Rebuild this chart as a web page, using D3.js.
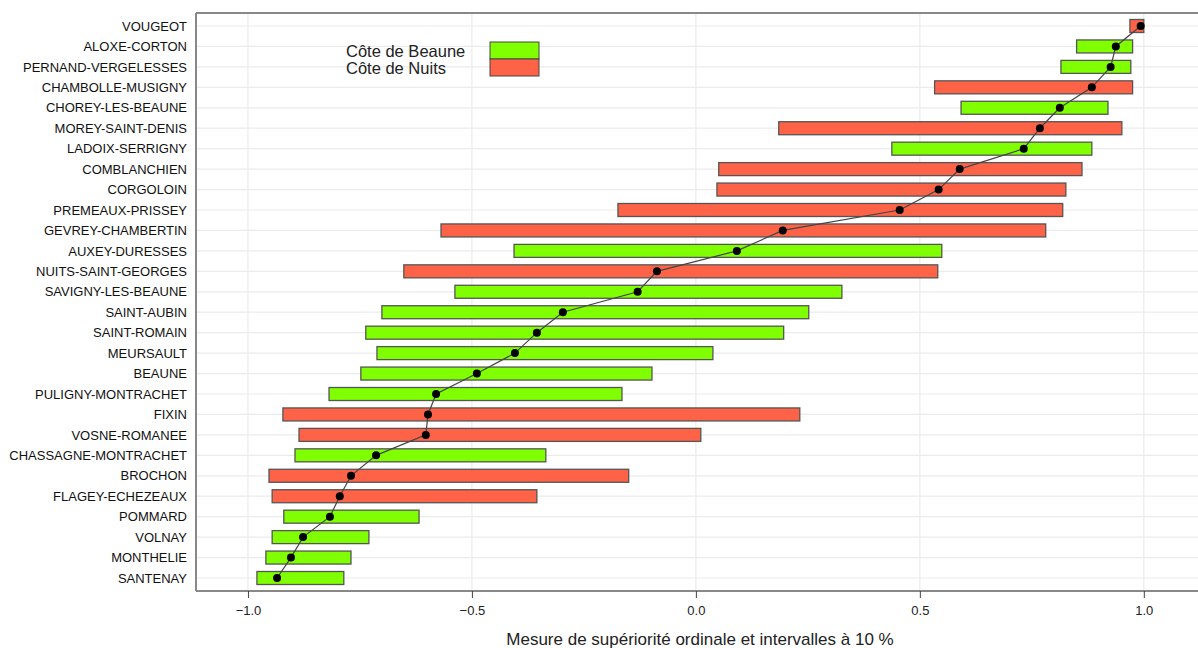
<!DOCTYPE html>
<html>
<head>
<meta charset="utf-8">
<script src="https://cdn.jsdelivr.net/npm/d3@7"></script>
<style>
  body { margin: 0; background: #fff; }
  text { font-family: "Liberation Sans", Arial, sans-serif; }
</style>
</head>
<body>
<div id="chart"></div>
<script>
// communes, top to bottom
const communes = ["VOUGEOT", "ALOXE-CORTON", "PERNAND-VERGELESSES", "CHAMBOLLE-MUSIGNY",
    "CHOREY-LES-BEAUNE", "MOREY-SAINT-DENIS", "LADOIX-SERRIGNY", "COMBLANCHIEN", "CORGOLOIN",
    "PREMEAUX-PRISSEY", "GEVREY-CHAMBERTIN", "AUXEY-DURESSES", "NUITS-SAINT-GEORGES",
    "SAVIGNY-LES-BEAUNE", "SAINT-AUBIN", "SAINT-ROMAIN", "MEURSAULT", "BEAUNE",
    "PULIGNY-MONTRACHET", "FIXIN", "VOSNE-ROMANEE", "CHASSAGNE-MONTRACHET", "BROCHON",
    "FLAGEY-ECHEZEAUX", "POMMARD", "VOLNAY", "MONTHELIE", "SANTENAY"];

// B = Côte de Beaune, N = Côte de Nuits
const cote = ["N", "B", "B", "N", "B", "N", "B", "N", "N", "N", "N", "B", "N", "B",
    "B", "B", "B", "B", "B", "N", "N", "B", "N", "N", "B", "B", "B", "B"];

const estimate = [0.993, 0.9375, 0.926, 0.884, 0.8125, 0.768, 0.732, 0.589, 0.542,
    0.455, 0.194, 0.0915, -0.087, -0.130, -0.297, -0.355, -0.404, -0.489,
    -0.580, -0.598, -0.603, -0.714, -0.770, -0.795, -0.817, -0.877, -0.904, -0.935];

const lower = [0.969, 0.850, 0.815, 0.533, 0.592, 0.185, 0.4375, 0.051, 0.047,
    -0.174, -0.569, -0.406, -0.652, -0.538, -0.701, -0.737, -0.712, -0.748,
    -0.819, -0.922, -0.886, -0.895, -0.953, -0.946, -0.920, -0.946, -0.960, -0.980];

const upper = [1.0, 0.975, 0.971, 0.975, 0.920, 0.951, 0.884, 0.862, 0.826,
    0.819, 0.781, 0.549, 0.540, 0.326, 0.252, 0.196, 0.038, -0.098,
    -0.165, 0.232, 0.011, -0.335, -0.150, -0.355, -0.618, -0.730, -0.770, -0.786];

const xTicks = [-1.0, -0.5, 0.0, 0.5, 1.0];
const legendLabels = ["Côte de Beaune", "Côte de Nuits"];
const legendKeys = ["B", "N"];

const data = communes.map((c, i) => ({
    name: c, cote: cote[i], est: estimate[i], lo: lower[i], hi: upper[i]
}));

const width = 1198, height = 648;
const margin = { top: 13, right: 0, bottom: 57, left: 196 };

const svg = d3.select("#chart").append("svg")
    .attr("width", width)
    .attr("height", height);

const x = d3.scaleLinear()
    .domain([-1.116, 1.121])
    .range([margin.left, width - margin.right]);

const y = d3.scalePoint()
    .domain(communes)
    .range([26, 578]);

const color = d3.scaleOrdinal()
    .domain(legendKeys)
    .range(["#7fff00", "#ff6347"]);

const barH = 13;

// grid
svg.append("g")
    .selectAll("line")
    .data(communes)
    .join("line")
    .attr("x1", margin.left)
    .attr("x2", width)
    .attr("y1", d => y(d))
    .attr("y2", d => y(d))
    .attr("stroke", "#ebebeb")
    .attr("stroke-width", 1.2);

svg.append("g")
    .selectAll("line")
    .data(xTicks)
    .join("line")
    .attr("x1", d => x(d))
    .attr("x2", d => x(d))
    .attr("y1", margin.top)
    .attr("y2", height - margin.bottom)
    .attr("stroke", "#ebebeb")
    .attr("stroke-width", 1.2);

// intervals
svg.append("g")
    .selectAll("rect")
    .data(data)
    .join("rect")
    .attr("x", d => x(d.lo))
    .attr("width", d => x(d.hi) - x(d.lo))
    .attr("y", d => y(d.name) - barH / 2)
    .attr("height", barH)
    .attr("fill", d => color(d.cote))
    .attr("stroke", "#555")
    .attr("stroke-width", 1.3);

// line through estimates
let line = d3.line()
    .x(d => x(d.est))
    .y(d => y(d.name));

svg.append("path")
    .datum(data)
    .attr("d", line)
    .attr("fill", "none")
    .attr("stroke", "#444")
    .attr("stroke-width", 1.2);

svg.append("g")
    .selectAll("circle")
    .data(data)
    .join("circle")
    .attr("cx", d => x(d.est))
    .attr("cy", d => y(d.name))
    .attr("r", 4)
    .attr("fill", "#000");

// frame
svg.append("line")
    .attr("x1", margin.left).attr("x2", width)
    .attr("y1", margin.top).attr("y2", margin.top)
    .attr("stroke", "#888").attr("stroke-width", 2);

// axes
let xAxis = svg.append("g")
    .attr("transform", "translate(0," + (height - margin.bottom) + ")")
    .call(d3.axisBottom(x).tickValues(xTicks).tickFormat(d3.format(".1f")).tickSize(7).tickPadding(8));
xAxis.select(".domain").attr("stroke", "#888").attr("stroke-width", 2)
    .attr("d", "M" + margin.left + ",0H" + width);
xAxis.selectAll(".tick line").attr("stroke", "#444");
xAxis.selectAll("text").style("font-size", "13px").attr("fill", "#222")
    .style("font-family", "Liberation Sans, Arial, sans-serif");

let yAxis = svg.append("g")
    .attr("transform", "translate(" + margin.left + ",0)")
    .call(d3.axisLeft(y).tickSize(0).tickPadding(9));
yAxis.select(".domain").attr("stroke", "#888").attr("stroke-width", 2)
    .attr("d", "M0," + margin.top + "V" + (height - margin.bottom));
yAxis.selectAll("text").style("font-size", "13px").attr("fill", "#111")
    .style("font-family", "Liberation Sans, Arial, sans-serif");

svg.append("text")
    .attr("x", 700)
    .attr("y", 645)
    .attr("text-anchor", "middle")
    .style("font-size", "17px")
    .attr("fill", "#222")
    .text("Mesure de supériorité ordinale et intervalles à 10 %");

// legend
let legend = svg.append("g");
legend.selectAll("rect")
    .data(legendKeys)
    .join("rect")
    .attr("x", 490)
    .attr("y", (d, i) => 42 + i * 17)
    .attr("width", 49)
    .attr("height", 17)
    .attr("fill", d => color(d))
    .attr("stroke", "#444")
    .attr("stroke-width", 1);

legend.selectAll("text")
    .data(legendLabels)
    .join("text")
    .attr("x", 346)
    .attr("y", (d, i) => 57 + i * 16.6)
    .style("font-size", "16.5px")
    .attr("fill", "#222")
    .text(d => d);
</script>
</body>
</html>
